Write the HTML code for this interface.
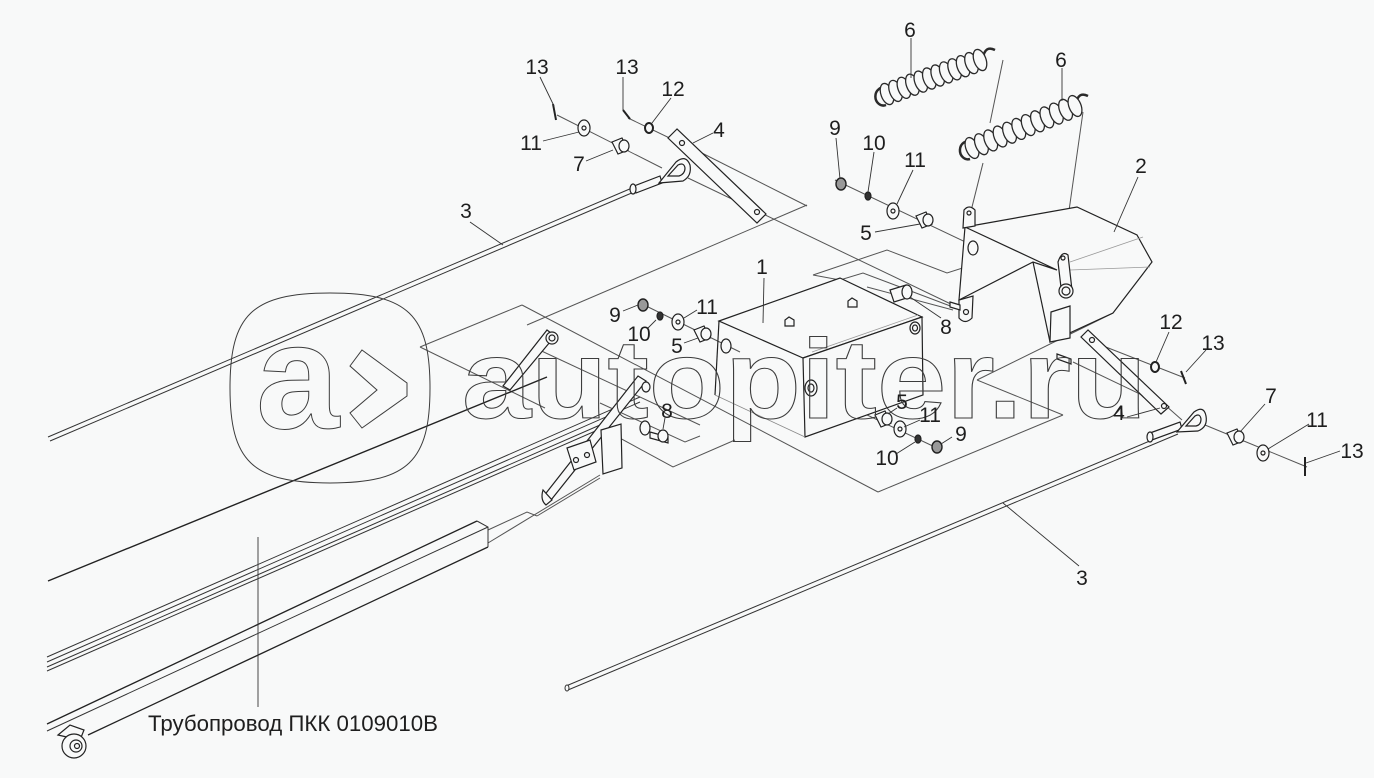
<!DOCTYPE html>
<html><head><meta charset="utf-8"><style>
html,body{margin:0;padding:0;background:#f8f9f9;}
svg{display:block}
text{font-family:"Liberation Sans",Arial,sans-serif;fill:#1e1e1e;font-size:21px}
</style></head><body>
<svg width="1374" height="778" viewBox="0 0 1374 778" xmlns="http://www.w3.org/2000/svg">
<rect width="1374" height="778" fill="#f8f9f9"/>

<!-- plane / axis lines -->
<g stroke="#555" stroke-width="1" fill="none">
<line x1="420" y1="347" x2="522" y2="305"/>
<line x1="522" y1="305" x2="878" y2="492"/>
<line x1="878" y1="492" x2="1063" y2="415"/>
<line x1="1063" y1="415" x2="977" y2="380"/>
<line x1="977" y1="380" x2="1113" y2="313"/>
<line x1="527" y1="325" x2="807" y2="205"/>
<line x1="682" y1="143" x2="807" y2="206"/>
<line x1="688" y1="178" x2="955" y2="306"/>
<line x1="420" y1="347" x2="545" y2="408"/>
<polyline points="813,275 887,250 947,273 997,257"/>
<polyline points="813,275 840,280 863,273 953,307"/>
<line x1="533" y1="347" x2="700" y2="425"/>
<polyline points="605,430 673,467 735,440"/>
<polyline points="600,403 685,442 700,436"/>
<line x1="488" y1="543" x2="600" y2="475"/>
<polyline points="488,530 527,512 537,516"/>
<line x1="537" y1="516" x2="600" y2="478"/>
<line x1="557" y1="115" x2="662" y2="168"/>
<line x1="628" y1="118" x2="682" y2="144"/>
<line x1="835" y1="180" x2="997" y2="257"/>
<line x1="640" y1="303" x2="740" y2="352"/>
<line x1="810" y1="388" x2="937" y2="448"/>
<line x1="867" y1="287" x2="953" y2="310"/>
<line x1="1093" y1="342" x2="1185" y2="378"/>
<line x1="1073" y1="362" x2="1167" y2="407"/>
<line x1="1165" y1="405" x2="1182" y2="420"/>
<line x1="1205" y1="425" x2="1307" y2="467"/>
<line x1="1003" y1="60" x2="990" y2="123"/>
<line x1="983" y1="163" x2="972" y2="207"/>
<line x1="1083" y1="112" x2="1063" y2="253"/>
</g>

<!-- rods, tube, beam -->
<g stroke="#333" stroke-width="1" fill="none">
<line x1="48" y1="437" x2="632" y2="188"/>
<line x1="50" y1="441" x2="634" y2="192"/>
<line x1="48" y1="581" x2="547" y2="377" stroke="#222" stroke-width="1.4"/>
<line x1="47" y1="657" x2="640" y2="397"/>
<line x1="47" y1="662" x2="640" y2="402"/>
<line x1="47" y1="667" x2="600" y2="425"/>
<line x1="47" y1="671" x2="600" y2="429"/>
<line x1="47" y1="724" x2="477" y2="521" stroke="#222" stroke-width="1.3"/>
<line x1="47" y1="731" x2="488" y2="527"/>
<line x1="88" y1="735" x2="488" y2="547" stroke="#222" stroke-width="1.3"/>
<polyline points="477,521 488,527 488,547"/>
<line x1="566" y1="686" x2="1176" y2="430"/>
<line x1="568" y1="690" x2="1178" y2="434"/>
</g>
<ellipse cx="567" cy="688" rx="2" ry="3" fill="#f8f9f9" stroke="#333"/>

<!-- lower-left fitting -->
<g stroke="#222" stroke-width="1.2" fill="#f8f9f9">
<path d="M58,735 L70,725 L84,730 L80,740 Z"/>
<circle cx="74" cy="746" r="12"/>
<circle cx="76" cy="746" r="6"/>
<circle cx="77" cy="746" r="2.5"/>
</g>

<!-- eyes -->
<g stroke="#222" stroke-width="1.2" fill="#f8f9f9">
<path d="M634,186 L660,176 L662,183 L636,193 Z"/>
<ellipse cx="633" cy="189" rx="3" ry="5"/>
<path d="M659,183 L676,162 Q686,154 690,165 Q692,176 683,181 Z"/>
<path d="M668,176 L678,165 Q684,162 685,168 Q685,174 679,176 Z"/>
<path d="M1150,433 L1180,422 L1182,429 L1152,440 Z"/>
<ellipse cx="1150" cy="437" rx="3" ry="5"/>
<path d="M1177,432 L1194,412 Q1204,405 1206,416 Q1208,427 1198,431 Z"/>
<path d="M1186,426 L1195,416 Q1200,413 1201,419 Q1201,425 1196,426 Z"/>
</g>

<!-- levers 4 -->
<g stroke="#222" stroke-width="1.2" fill="#f8f9f9">
<polygon points="677,129 668,138 757,223 766,214"/>
<circle cx="682" cy="143" r="2.5"/>
<circle cx="757" cy="212" r="2.5"/>
<polygon points="1088,330 1081,337 1161,414 1169,407"/>
<circle cx="1092" cy="340" r="2.5"/>
<circle cx="1164" cy="406" r="2.5"/>
</g>

<!-- box 1 -->
<g stroke="#222" stroke-width="1.2" fill="#f8f9f9">
<polygon points="719,321 840,278 922,317 803,358"/>
<polygon points="803,358 922,317 923,395 805,437"/>
<polyline points="719,321 715,395" fill="none"/>
<line x1="715" y1="395" x2="805" y2="437" stroke="#888" stroke-width="0.8"/>
<line x1="812" y1="352" x2="918" y2="315" stroke="#999" stroke-width="0.8"/>
<ellipse cx="726" cy="346" rx="5" ry="7"/>
<ellipse cx="811" cy="388" rx="6" ry="8"/><ellipse cx="811" cy="388" rx="3" ry="4"/>
<ellipse cx="915" cy="328" rx="5" ry="6"/><ellipse cx="915" cy="328" rx="2.5" ry="3"/>
<path d="M785,326 l0,-6 l4,-3 l5,3 l0,6 z"/>
<path d="M848,307 l0,-6 l4,-3 l5,3 l0,6 z"/>
</g>

<!-- box 2 -->
<g stroke="#222" stroke-width="1.2" fill="#f8f9f9">
<polygon points="965,227 1077,207 1137,235 1152,262 1113,313 1050,342 1033,262"/>
<polygon points="965,227 1057,270 1033,262 959,300"/>
<line x1="1070" y1="262" x2="1143" y2="237" stroke="#999" stroke-width="0.8"/>
<line x1="1070" y1="270" x2="1150" y2="267" stroke="#999" stroke-width="0.8"/>
<ellipse cx="973" cy="248" rx="5" ry="7"/>
<path d="M963,228 L964,210 Q969,204 975,210 L975,226 Z"/>
<circle cx="969" cy="213" r="2"/>
<path d="M959,300 L959,318 Q965,325 972,318 L973,296 Z"/>
<circle cx="966" cy="312" r="2.5"/>
<path d="M1058,262 Q1062,250 1068,255 L1072,290 L1062,296 Z"/>
<circle cx="1063" cy="258" r="2"/>
<circle cx="1066" cy="291" r="7"/><circle cx="1066" cy="291" r="4"/>
<polygon points="1051,312 1070,306 1070,338 1050,342"/>
<path d="M1057,354 l14,5 l0,5 l-14,-5 z"/>
</g>

<!-- mid bracket -->
<g stroke="#222" stroke-width="1.2" fill="#f8f9f9">
<polygon points="547,330 555,336 510,390 503,386"/>
<circle cx="552" cy="338" r="6"/><circle cx="552" cy="338" r="3"/>
<polygon points="638,376 646,381 551,500 543,497"/>
<path d="M543,490 Q540,500 546,505 L552,500 Z"/>
<polygon points="567,448 590,440 596,462 574,470"/>
<circle cx="576" cy="460" r="2.5"/><circle cx="587" cy="455" r="2.5"/>
<polygon points="601,430 621,424 622,468 603,474"/>
<ellipse cx="646" cy="387" rx="4" ry="5"/>
<ellipse cx="645" cy="428" rx="5" ry="7"/>
<path d="M650,432 l18,5 l0,6 l-18,-5 z"/>
<ellipse cx="663" cy="436" rx="5" ry="6"/>
<path d="M890,290 l16,-5 l4,12 l-16,5 z"/>
<ellipse cx="907" cy="292" rx="5" ry="7"/>
<path d="M950,302 l10,3 l0,5 l-10,-3 z"/>
</g>

<!-- washers / nuts / bushings -->
<g stroke="#222" stroke-width="1.2" fill="#f8f9f9">
<ellipse cx="584" cy="128" rx="6" ry="8"/><circle cx="584" cy="128" r="2"/>
<path d="M612,142 l10,-4 l6,12 l-10,4 z"/><ellipse cx="624" cy="146" rx="5" ry="6"/>
<ellipse cx="649" cy="128" rx="4" ry="5" stroke-width="2"/>
<ellipse cx="841" cy="184" rx="5" ry="6" fill="#999" stroke-width="1.4"/>
<ellipse cx="868" cy="196" rx="3" ry="4" fill="#333"/>
<ellipse cx="893" cy="211" rx="6" ry="8"/><circle cx="893" cy="211" r="2"/>
<path d="M916,216 l10,-4 l6,12 l-10,4 z"/><ellipse cx="928" cy="220" rx="5" ry="6"/>
<ellipse cx="643" cy="305" rx="5" ry="6" fill="#999" stroke-width="1.4"/>
<ellipse cx="660" cy="316" rx="3" ry="4" fill="#333"/>
<ellipse cx="678" cy="322" rx="6" ry="8"/><circle cx="678" cy="322" r="2"/>
<path d="M694,330 l10,-4 l6,12 l-10,4 z"/><ellipse cx="706" cy="334" rx="5" ry="6"/>
<path d="M875,415 l10,-4 l6,12 l-10,4 z"/><ellipse cx="887" cy="419" rx="5" ry="6"/>
<ellipse cx="900" cy="429" rx="6" ry="8"/><circle cx="900" cy="429" r="2"/>
<ellipse cx="918" cy="439" rx="3" ry="4" fill="#333"/>
<ellipse cx="937" cy="447" rx="5" ry="6" fill="#999" stroke-width="1.4"/>
<ellipse cx="1155" cy="367" rx="4" ry="5" stroke-width="2"/>
<path d="M1227,433 l10,-4 l6,12 l-10,4 z"/><ellipse cx="1239" cy="437" rx="5" ry="6"/>
<ellipse cx="1263" cy="453" rx="6" ry="8"/><circle cx="1263" cy="453" r="2"/>
</g>
<g stroke="#222" stroke-width="2" fill="none">
<line x1="553" y1="104" x2="556" y2="120"/>
<line x1="623" y1="110" x2="630" y2="119"/>
<line x1="1181" y1="371" x2="1186" y2="384"/>
<line x1="1305" y1="457" x2="1305" y2="476"/>
</g>

<!-- springs -->
<g stroke="#2a2a2a" stroke-width="1.3" fill="#f8f9f9">
<path d="M886,88 A8,9 0 1 0 886,105" fill="none" stroke-width="2.5"/>
<path d="M983,58 Q985,45 995,50" fill="none" stroke-width="2.5"/>
<g transform="rotate(-20 887 94)"><ellipse cx="887" cy="94" rx="6" ry="11"/></g>
<g transform="rotate(-20 895.5 90.9)"><ellipse cx="895.5" cy="90.9" rx="6" ry="11"/></g>
<g transform="rotate(-20 903.9 87.8)"><ellipse cx="903.9" cy="87.8" rx="6" ry="11"/></g>
<g transform="rotate(-20 912.4 84.7)"><ellipse cx="912.4" cy="84.7" rx="6" ry="11"/></g>
<g transform="rotate(-20 920.8 81.6)"><ellipse cx="920.8" cy="81.6" rx="6" ry="11"/></g>
<g transform="rotate(-20 929.3 78.5)"><ellipse cx="929.3" cy="78.5" rx="6" ry="11"/></g>
<g transform="rotate(-20 937.7 75.5)"><ellipse cx="937.7" cy="75.5" rx="6" ry="11"/></g>
<g transform="rotate(-20 946.2 72.4)"><ellipse cx="946.2" cy="72.4" rx="6" ry="11"/></g>
<g transform="rotate(-20 954.6 69.3)"><ellipse cx="954.6" cy="69.3" rx="6" ry="11"/></g>
<g transform="rotate(-20 963.1 66.2)"><ellipse cx="963.1" cy="66.2" rx="6" ry="11"/></g>
<g transform="rotate(-20 971.5 63.1)"><ellipse cx="971.5" cy="63.1" rx="6" ry="11"/></g>
<g transform="rotate(-20 980 60)"><ellipse cx="980" cy="60" rx="6" ry="11"/></g>

<path d="M971,142 A8,9 0 1 0 970,159" fill="none" stroke-width="2.5"/>
<path d="M1076,104 Q1078,91 1088,96" fill="none" stroke-width="2.5"/>
<g transform="rotate(-22 972 148)"><ellipse cx="972" cy="148" rx="6" ry="11"/></g>
<g transform="rotate(-22 981.4 144.2)"><ellipse cx="981.4" cy="144.2" rx="6" ry="11"/></g>
<g transform="rotate(-22 990.7 140.4)"><ellipse cx="990.7" cy="140.4" rx="6" ry="11"/></g>
<g transform="rotate(-22 1000.1 136.5)"><ellipse cx="1000.1" cy="136.5" rx="6" ry="11"/></g>
<g transform="rotate(-22 1009.5 132.7)"><ellipse cx="1009.5" cy="132.7" rx="6" ry="11"/></g>
<g transform="rotate(-22 1018.8 128.9)"><ellipse cx="1018.8" cy="128.9" rx="6" ry="11"/></g>
<g transform="rotate(-22 1028.2 125.1)"><ellipse cx="1028.2" cy="125.1" rx="6" ry="11"/></g>
<g transform="rotate(-22 1037.5 121.3)"><ellipse cx="1037.5" cy="121.3" rx="6" ry="11"/></g>
<g transform="rotate(-22 1046.9 117.4)"><ellipse cx="1046.9" cy="117.4" rx="6" ry="11"/></g>
<g transform="rotate(-22 1056.3 113.6)"><ellipse cx="1056.3" cy="113.6" rx="6" ry="11"/></g>
<g transform="rotate(-22 1065.6 109.8)"><ellipse cx="1065.6" cy="109.8" rx="6" ry="11"/></g>
<g transform="rotate(-22 1075 106)"><ellipse cx="1075" cy="106" rx="6" ry="11"/></g>
</g>

<!-- leaders -->
<g stroke="#333" stroke-width="0.9" fill="none">
<line x1="540" y1="77" x2="554" y2="106"/>
<line x1="623" y1="77" x2="623" y2="110"/>
<line x1="671" y1="98" x2="652" y2="123"/>
<line x1="543" y1="141" x2="579" y2="132"/>
<line x1="586" y1="161" x2="613" y2="150"/>
<line x1="713" y1="133" x2="693" y2="143"/>
<line x1="470" y1="222" x2="503" y2="245"/>
<line x1="911" y1="38" x2="911" y2="78"/>
<line x1="1062" y1="68" x2="1062" y2="101"/>
<line x1="836" y1="138" x2="840" y2="179"/>
<line x1="874" y1="152" x2="868" y2="192"/>
<line x1="913" y1="170" x2="897" y2="204"/>
<line x1="875" y1="232" x2="920" y2="224"/>
<line x1="1138" y1="177" x2="1114" y2="232"/>
<line x1="764" y1="278" x2="763" y2="323"/>
<line x1="941" y1="318" x2="910" y2="297"/>
<line x1="623" y1="311" x2="638" y2="305"/>
<line x1="648" y1="328" x2="656" y2="320"/>
<line x1="697" y1="310" x2="684" y2="318"/>
<line x1="684" y1="343" x2="698" y2="338"/>
<line x1="665" y1="418" x2="663" y2="429"/>
<line x1="897" y1="408" x2="888" y2="414"/>
<line x1="920" y1="420" x2="904" y2="427"/>
<line x1="952" y1="437" x2="941" y2="444"/>
<line x1="896" y1="454" x2="915" y2="442"/>
<line x1="1169" y1="332" x2="1156" y2="362"/>
<line x1="1206" y1="350" x2="1186" y2="372"/>
<line x1="1127" y1="417" x2="1160" y2="408"/>
<line x1="1265" y1="404" x2="1240" y2="432"/>
<line x1="1309" y1="424" x2="1268" y2="449"/>
<line x1="1340" y1="451" x2="1306" y2="463"/>
<line x1="1079" y1="566" x2="1003" y2="503"/>
<line x1="258" y1="537" x2="258" y2="707"/>
</g>

<!-- watermark on top -->
<g fill="none" stroke="#3c3c3c" stroke-width="1">
<path d="M330,293 C408,293 430,315 430,388 C430,461 408,483 330,483 C252,483 230,461 230,388 C230,315 252,293 330,293 Z"/>
<polygon points="362,350 407,383 407,396 362,428 350,413 377,390 350,366"/>
</g>
<text x="256" y="428" style="font-size:150px;font-weight:bold;fill:none;stroke:#3c3c3c;stroke-width:1">a</text>
<text x="462" y="418" textLength="685" lengthAdjust="spacingAndGlyphs" style="font-size:112px;font-weight:bold;fill:none;stroke:#3c3c3c;stroke-width:1">autopiter.ru</text>

<!-- labels -->
<g text-anchor="middle">
<text x="537" y="74">13</text>
<text x="627" y="74">13</text>
<text x="673" y="96">12</text>
<text x="531" y="150">11</text>
<text x="579" y="171">7</text>
<text x="719" y="137">4</text>
<text x="466" y="218">3</text>
<text x="910" y="37">6</text>
<text x="1061" y="67">6</text>
<text x="835" y="135">9</text>
<text x="874" y="150">10</text>
<text x="915" y="167">11</text>
<text x="866" y="240">5</text>
<text x="1141" y="173">2</text>
<text x="762" y="274">1</text>
<text x="946" y="334">8</text>
<text x="615" y="322">9</text>
<text x="707" y="314">11</text>
<text x="639" y="341">10</text>
<text x="677" y="353">5</text>
<text x="667" y="418">8</text>
<text x="902" y="409">5</text>
<text x="930" y="422">11</text>
<text x="961" y="441">9</text>
<text x="887" y="465">10</text>
<text x="1171" y="329">12</text>
<text x="1213" y="350">13</text>
<text x="1119" y="420">4</text>
<text x="1271" y="403">7</text>
<text x="1317" y="427">11</text>
<text x="1352" y="458">13</text>
<text x="1082" y="585">3</text>
</g>
<text x="148" y="731" textLength="290" lengthAdjust="spacingAndGlyphs" style="font-size:22px">Трубопровод ПКК 0109010В</text>
</svg>
</body></html>
